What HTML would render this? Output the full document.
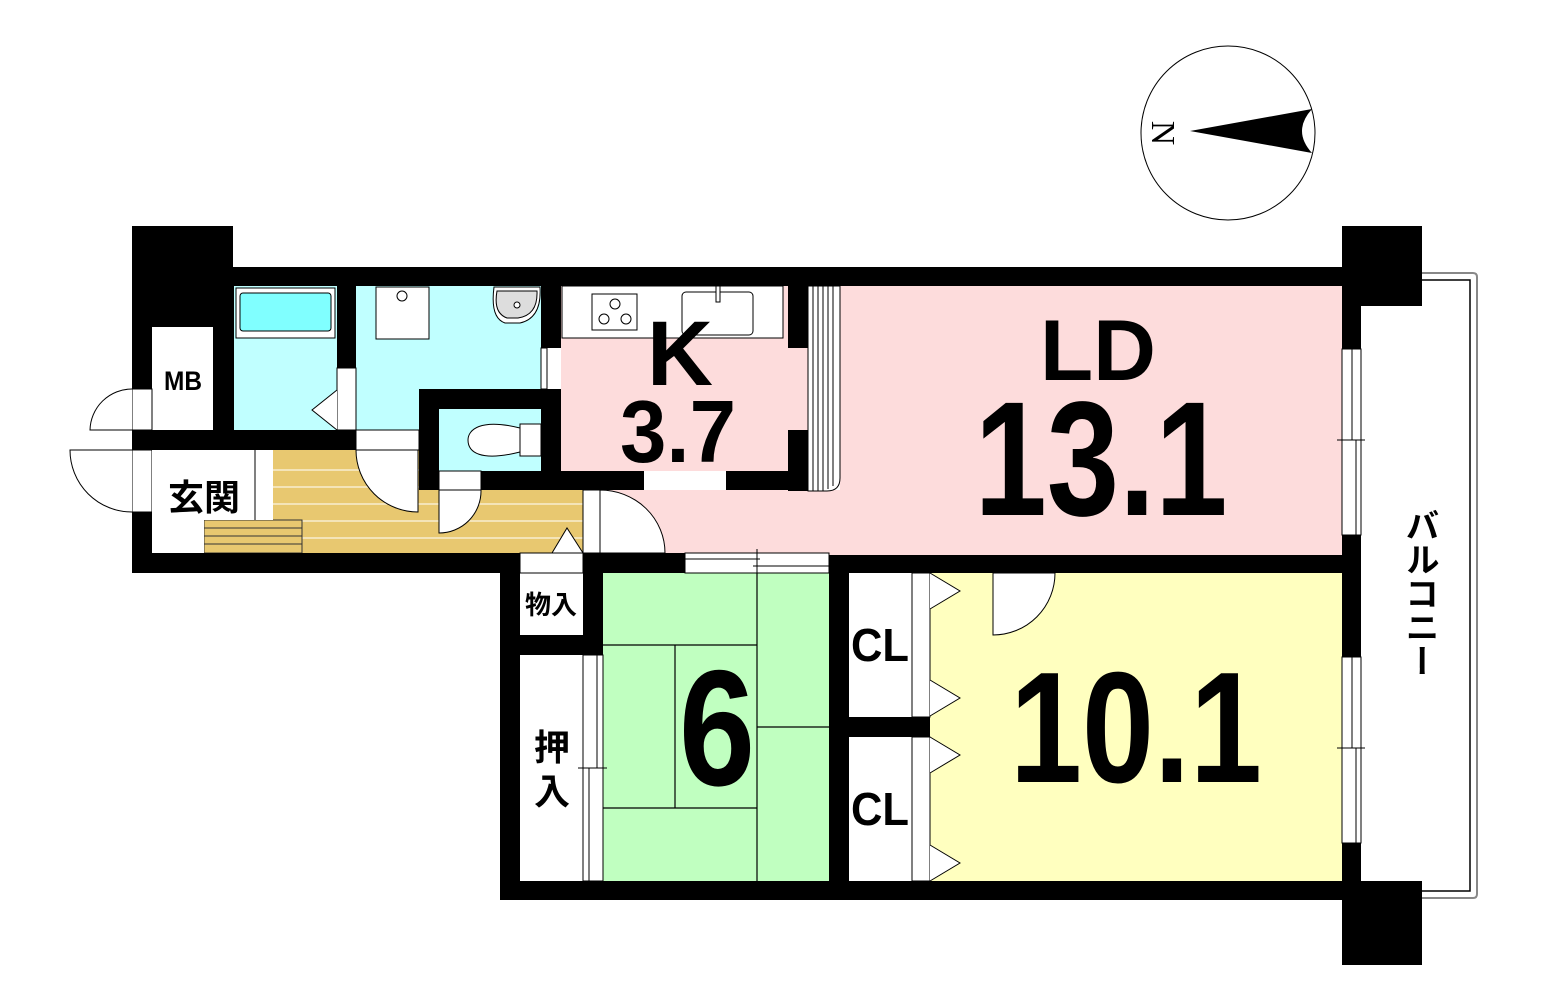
<!DOCTYPE html>
<html><head><meta charset="utf-8"><style>html,body{margin:0;padding:0;background:#fff}svg{display:block}</style></head>
<body>
<svg width="1545" height="998" viewBox="0 0 1545 998" xmlns="http://www.w3.org/2000/svg" font-family="'Liberation Sans','Noto Sans CJK JP',sans-serif" font-weight="bold">
<!-- compass -->
<circle cx="1228" cy="133" r="87" fill="none" stroke="#000" stroke-width="1"/>
<path d="M1190,131 L1312,109 Q1292,131 1312,153 Z" fill="#000"/>
<text x="0" y="0" font-family="'Liberation Serif',serif" font-weight="normal" font-size="34" transform="translate(1152,133) rotate(90)" text-anchor="middle">N</text>

<!-- balcony -->
<path d="M1422,273 H1473 Q1477,273 1477,277 V894 Q1477,898 1473,898 H1422" fill="none" stroke="#888" stroke-width="2"/>
<path d="M1422,280 H1470 V891 H1422" fill="none" stroke="#000" stroke-width="1.5"/>

<!-- hall floor -->
<rect x="273" y="450" width="310" height="103" fill="#e8c870"/>
<g stroke="#fff" stroke-width="1">
<line x1="273" y1="470" x2="583" y2="470"/><line x1="273" y1="487" x2="583" y2="487"/><line x1="273" y1="504" x2="583" y2="504"/><line x1="273" y1="521" x2="583" y2="521"/><line x1="273" y1="538" x2="583" y2="538"/>
</g>

<!-- room fills -->
<rect x="234" y="286" width="103" height="144" fill="#c0ffff"/>
<rect x="356" y="286" width="185" height="145" fill="#c0ffff"/>
<rect x="419" y="389" width="142" height="101" fill="#c0ffff"/>
<rect x="561" y="286" width="247" height="185" fill="#fddcdc"/>
<rect x="840" y="286" width="502" height="269" fill="#fddcdc"/>
<rect x="600" y="490" width="260" height="65" fill="#fddcdc"/>
<rect x="603" y="573" width="226" height="308" fill="#c0ffc0"/>
<rect x="930" y="573" width="412" height="308" fill="#ffffbf"/>
<rect x="204" y="520" width="98" height="33" fill="#e8c870" stroke="#333" stroke-width="1"/>
<g stroke="#333" stroke-width="1"><line x1="204" y1="528" x2="302" y2="528"/><line x1="204" y1="536" x2="302" y2="536"/><line x1="204" y1="544" x2="302" y2="544"/></g>

<!-- walls -->
<g fill="#000">
<rect x="132" y="226" width="101" height="101"/>
<rect x="132" y="226" width="20" height="346"/>
<rect x="132" y="267" width="1210" height="19"/>
<rect x="213" y="286" width="21" height="164"/>
<rect x="132" y="430" width="224" height="20"/>
<rect x="337" y="286" width="19" height="82"/>
<rect x="541" y="286" width="20" height="62"/>
<rect x="419" y="389" width="142" height="20"/>
<rect x="419" y="389" width="20" height="101"/>
<rect x="541" y="389" width="20" height="101"/>
<rect x="419" y="471" width="389" height="19"/>
<rect x="788" y="286" width="20" height="62"/>
<rect x="788" y="430" width="20" height="61"/>
<rect x="132" y="553" width="468" height="20"/>
<rect x="500" y="553" width="20" height="347"/>
<rect x="583" y="553" width="20" height="102"/>
<rect x="520" y="635" width="83" height="20"/>
<rect x="583" y="553" width="102" height="20"/>
<rect x="829" y="555" width="513" height="18"/>
<rect x="829" y="555" width="20" height="345"/>
<rect x="849" y="717" width="81" height="20"/>
<rect x="500" y="881" width="922" height="19"/>
<rect x="1342" y="226" width="80" height="80"/>
<rect x="1342" y="226" width="19" height="123"/>
<rect x="1342" y="535" width="19" height="122"/>
<rect x="1342" y="843" width="19" height="42"/>
<rect x="1342" y="885" width="80" height="80"/>
</g>
<!-- gaps white -->
<rect x="644" y="471" width="82" height="19" fill="#fff"/>
<rect x="439" y="471" width="42" height="19" fill="#fff" stroke="#000" stroke-width="1"/>
<rect x="337" y="368" width="19" height="62" fill="#fff" stroke="#000" stroke-width="1"/>
<rect x="541" y="348" width="6" height="41" fill="#fff" stroke="#000" stroke-width="1"/>
<line x1="544" y1="305" x2="544" y2="348" stroke="#000" stroke-dasharray="2,2"/>

<!-- MB -->
<rect x="152" y="327" width="61" height="103" fill="#fff"/>
<text x="183" y="390" font-size="27" text-anchor="middle" textLength="38" lengthAdjust="spacingAndGlyphs">MB</text>
<rect x="132" y="389" width="20" height="41" fill="#fff" stroke="#000" stroke-width="1"/>
<path d="M132,389 A42,42 0 0 0 90,430 H132" fill="#fff" stroke="#000" stroke-width="1"/>
<!-- entry door -->
<rect x="132" y="450" width="20" height="62" fill="#fff" stroke="#000" stroke-width="1"/>
<path d="M132,450 H70 A62,62 0 0 0 132,512" fill="#fff" stroke="#000" stroke-width="1"/>
<rect x="152" y="450" width="121" height="70" fill="#fff"/>
<rect x="152" y="520" width="52" height="33" fill="#fff"/>
<line x1="255" y1="450" x2="255" y2="520" stroke="#000"/>
<text x="204" y="510" font-size="36" text-anchor="middle">玄関</text>

<!-- bath -->
<rect x="236" y="288" width="99" height="50" fill="#fff" stroke="#000"/>
<rect x="240" y="293" width="91" height="38" rx="3" fill="#80ffff" stroke="#000"/>
<path d="M337,390 L312,410 L337,430" fill="#fff" stroke="#000"/>
<!-- washer / sink -->
<rect x="376" y="287" width="53" height="52" fill="#fff" stroke="#000"/>
<circle cx="402" cy="296" r="5" fill="#fff" stroke="#000"/>
<path d="M494,287 H540 Q542,318 520,323 H505 Q490,318 494,287Z" fill="#fff" stroke="#000"/>
<path d="M497,291 H537 Q538,315 518,318 H507 Q493,313 497,291Z" fill="#ddd" stroke="#000"/>
<circle cx="517" cy="305" r="3" fill="#fff" stroke="#000"/>
<!-- washroom door -->
<rect x="356" y="430" width="63" height="20" fill="#fff" stroke="#000" stroke-width="1"/>
<path d="M356,450 A62,62 0 0 0 418,512 V450 Z" fill="#fff" stroke="#000"/>
<!-- toilet -->
<rect x="520" y="424" width="21" height="32" fill="#fff" stroke="#000"/>
<path d="M520,428 C480,418 468,430 468,440 C468,452 480,462 520,452 Z" fill="#fff" stroke="#000"/>
<path d="M439,490 V533 A42,42 0 0 0 481,490 Z" fill="#fff" stroke="#000"/>
<!-- hall arrow -->
<path d="M552,553 L567,528 L583,553" fill="#fff" stroke="#000"/>
<!-- LD door -->
<rect x="583" y="490" width="17" height="63" fill="#fff" stroke="#000"/>
<path d="M600,490 A65,63 0 0 1 665,553 H600 Z" fill="#fff" stroke="#000"/>

<!-- kitchen -->
<rect x="562" y="286" width="221" height="52" fill="#fff" stroke="#000"/>
<rect x="592" y="294" width="45" height="36" fill="#fff" stroke="#000"/>
<circle cx="615" cy="304" r="5" fill="none" stroke="#000"/><circle cx="604" cy="319" r="5" fill="none" stroke="#000"/><circle cx="626" cy="319" r="5" fill="none" stroke="#000"/>
<rect x="682" y="292" width="71" height="43" rx="4" fill="#fff" stroke="#000"/>
<rect x="716" y="286" width="4" height="16" fill="#fff" stroke="#000"/>
<!-- column -->
<path d="M808,286 H840 V478 Q840,491 827,491 H808 Z" fill="#fff" stroke="#000"/>
<g stroke="#000" stroke-width="1"><line x1="813" y1="286" x2="813" y2="491"/><line x1="818" y1="286" x2="818" y2="491"/><line x1="823" y1="286" x2="823" y2="491"/><line x1="828" y1="286" x2="828" y2="489"/><line x1="833" y1="286" x2="833" y2="486"/></g>

<!-- LD windows -->
<rect x="1342" y="349" width="19" height="186" fill="#fff" stroke="#000"/>
<line x1="1352" y1="349" x2="1352" y2="440" stroke="#000"/><line x1="1356" y1="440" x2="1356" y2="535" stroke="#000"/>
<line x1="1337" y1="440" x2="1365" y2="440" stroke="#000"/>
<rect x="1342" y="657" width="19" height="186" fill="#fff" stroke="#000"/>
<line x1="1352" y1="657" x2="1352" y2="748" stroke="#000"/><line x1="1356" y1="748" x2="1356" y2="843" stroke="#000"/>
<line x1="1337" y1="748" x2="1365" y2="748" stroke="#000"/>

<!-- 物入 / 押入 -->
<rect x="520" y="573" width="63" height="62" fill="#fff"/>
<rect x="520" y="553" width="63" height="20" fill="#fff" stroke="#000"/>
<text x="551" y="614" font-size="26" text-anchor="middle">物入</text>
<rect x="520" y="655" width="63" height="226" fill="#fff"/>
<rect x="583" y="655" width="20" height="226" fill="#fff" stroke="#000"/>
<line x1="589" y1="768" x2="589" y2="881" stroke="#000"/><line x1="597" y1="655" x2="597" y2="768" stroke="#000"/>
<line x1="578" y1="768" x2="607" y2="768" stroke="#000"/>
<text x="552" y="760" font-size="36" text-anchor="middle">押</text>
<text x="552" y="804" font-size="36" text-anchor="middle">入</text>

<!-- tatami -->
<g stroke="#000" stroke-width="1.2" fill="none">
<line x1="757" y1="573" x2="757" y2="881"/>
<line x1="603" y1="645" x2="757" y2="645"/>
<line x1="603" y1="808" x2="757" y2="808"/>
<line x1="675" y1="645" x2="675" y2="808"/>
<line x1="757" y1="727" x2="829" y2="727"/>
</g>
<rect x="685" y="553" width="144" height="20" fill="#fff" stroke="#000"/>
<line x1="685" y1="559" x2="760" y2="559" stroke="#000"/><line x1="753" y1="566" x2="829" y2="566" stroke="#000"/>
<line x1="757" y1="549" x2="757" y2="577" stroke="#000"/>

<!-- CL -->
<rect x="849" y="573" width="63" height="144" fill="#fff"/>
<rect x="849" y="737" width="63" height="144" fill="#fff"/>
<rect x="912" y="573" width="18" height="144" fill="#fff" stroke="#000"/>
<rect x="912" y="737" width="18" height="144" fill="#fff" stroke="#000"/>
<g fill="#fff" stroke="#000">
<path d="M930,573 L960,591 L930,609"/><path d="M930,680 L960,698 L930,716"/>
<path d="M930,737 L960,755 L930,773"/><path d="M930,845 L960,863 L930,881"/>
</g>
<text x="880" y="661" font-size="46" text-anchor="middle" textLength="58" lengthAdjust="spacingAndGlyphs">CL</text>
<text x="880" y="825" font-size="46" text-anchor="middle" textLength="58" lengthAdjust="spacingAndGlyphs">CL</text>
<path d="M993,573 V635 A62,62 0 0 0 1055,573 Z" fill="#fff" stroke="#000"/>

<!-- labels -->
<text x="680" y="385" font-size="92" text-anchor="middle" textLength="66" lengthAdjust="spacingAndGlyphs">K</text>
<text x="678" y="462" font-size="88" text-anchor="middle" textLength="116" lengthAdjust="spacingAndGlyphs">3.7</text>
<text x="1098" y="380" font-size="86" text-anchor="middle" textLength="116" lengthAdjust="spacingAndGlyphs">LD</text>
<text x="1101" y="515" font-size="163" text-anchor="middle" textLength="253" lengthAdjust="spacingAndGlyphs">13.1</text>
<text x="717" y="785" font-size="165" text-anchor="middle" textLength="76" lengthAdjust="spacingAndGlyphs">6</text>
<text x="1136" y="782" font-size="158" text-anchor="middle" textLength="252" lengthAdjust="spacingAndGlyphs">10.1</text>
<text x="1419" y="508" font-size="34" style="writing-mode:vertical-rl" text-anchor="start">バルコニー</text>
</svg>
</body></html>
